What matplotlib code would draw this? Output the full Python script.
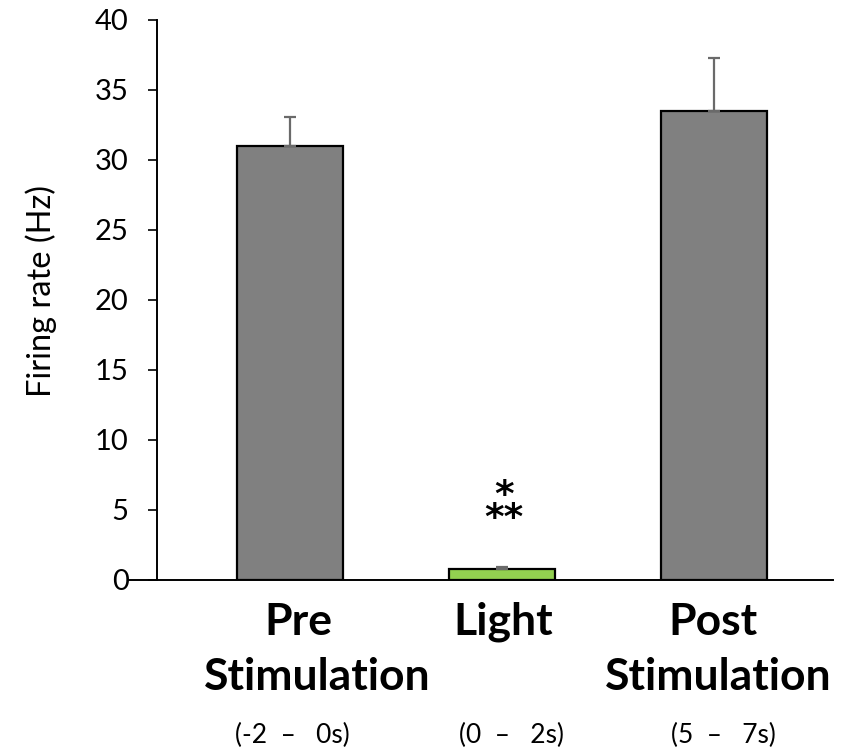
import matplotlib
matplotlib.use("Agg")
import matplotlib.pyplot as plt
from matplotlib.transforms import blended_transform_factory

# Firing rate per stimulation window
conditions = ["Pre\nStimulation", "Light", "Post\nStimulation"]
windows = ["(-2  \u2013   0s)", "(0  \u2013   2s)", "(5  \u2013   7s)"]
rates = [31.0, 0.8, 33.5]
errors = [2.1, 0.12, 3.8]
bar_colors = ["#808080", "#92D050", "#808080"]
y_ticks = [0, 5, 10, 15, 20, 25, 30, 35, 40]

W, H = 846, 752
fig = plt.figure(figsize=(W / 100, H / 100), dpi=100)
ax = fig.add_axes([128 / W, (H - 580) / H, (833 - 128) / W, (580 - 20) / H])

x = list(range(len(rates)))
ax.bar(x, rates, width=0.5, color=bar_colors, edgecolor="black", linewidth=1.6, zorder=2)
ax.errorbar(x, rates, yerr=[[0] * len(errors), errors], fmt="none",
            ecolor="#6a6a6a", elinewidth=1.6, capsize=4.5, capthick=1.6, zorder=3)

ax.set_xlim(-0.764, 2.561)
ax.set_ylim(0, 40)
ax.set_yticks(y_ticks)
ax.set_xticks([])

for s in ["top", "right"]:
    ax.spines[s].set_visible(False)
ax.spines["left"].set_position(("data", -0.627))
ax.spines["left"].set_linewidth(1.4)
ax.spines["bottom"].set_linewidth(1.4)
ax.tick_params(axis="y", direction="out", length=6.5, width=1.2, pad=14,
               labelsize=21)
for lab in ax.get_yticklabels():
    lab.set_fontfamily("Lato")

ax.set_ylabel("Firing rate (Hz)", fontsize=23.5, fontfamily="Lato", labelpad=0)
ax.yaxis.set_label_coords(-0.100, 0.516)

# significance markers above the light bar
ax.text(1.01, 5.2, "*\n**", ha="center", va="center", fontsize=27,
        fontweight="bold", fontfamily="DejaVu Sans", linespacing=0.55,
        multialignment="center")

# category labels beneath the axis
tr = blended_transform_factory(ax.transData, fig.transFigure)
title_lines = [
    [(0.038, 635, "Pre"), (0.127, 690, "Stimulation")],
    [(1.005, 635, "Light")],
    [(1.995, 635, "Post"), (2.019, 690, "Stimulation")],
]
for lines in title_lines:
    for xp, yp, txt in lines:
        ax.text(xp, 1 - yp / H, txt, transform=tr, ha="center", va="baseline",
                fontsize=32, fontweight="bold", fontfamily="Lato")

window_x = [0.01, 1.047, 2.042]
for xp, txt in zip(window_x, windows):
    ax.text(xp, 1 - 743 / H, txt, transform=tr, ha="center", va="baseline",
            fontsize=19, fontfamily="Lato")

fig.savefig("out.png", dpi=100)
